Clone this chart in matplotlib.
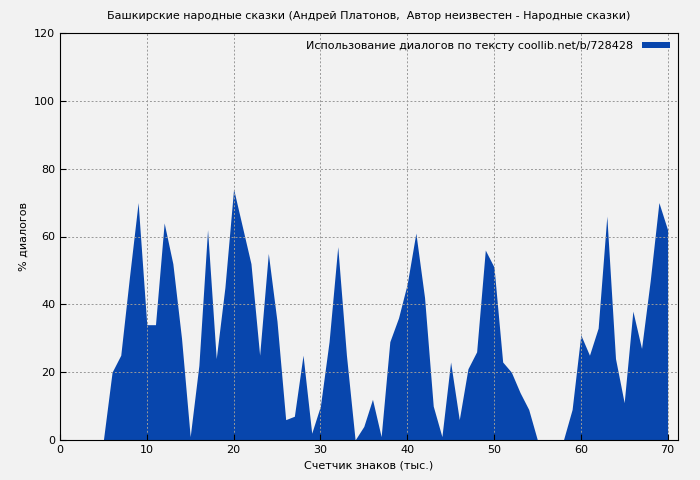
import matplotlib
matplotlib.use("Agg")
import matplotlib.pyplot as plt

x = list(range(0, 71))
y = [0,0,0,0,0,0,20,25,48,70,34,34,64,52,30,1,22,62,24,45,74,63,52,25,55,35,6,7,25,2,
     10,29,57,25,0,4,12,1,29,36,46,61,42,10,1,23,6,21,26,56,51,23,20,14,9,0,0,0,0,9,
     31,25,33,66,24,11,38,27,47,70,62]
title = "Башкирские народные сказки (Андрей Платонов,  Автор неизвестен - Народные сказки)"
legend_label = "Использование диалогов по тексту coollib.net/b/728428"
color = "#0846ad"

fig = plt.figure(figsize=(7, 4.8), dpi=100, facecolor="#f2f2f2")
ax = fig.add_axes([60/700, 40/480, 618/700, 407/480])
ax.set_facecolor("#f2f2f2")
ax.fill_between(x, y, 0, color=color, linewidth=0, label=legend_label)
ax.set_xlim(0, 71.2)
ax.set_ylim(0, 120)
ax.set_xticks(range(0, 71, 10))
ax.set_yticks(range(0, 121, 20))
ax.grid(True, color="#999999", linestyle=(0, (2, 2)), linewidth=0.7)
ax.tick_params(labelsize=8, direction="in", length=4)
ax.set_xlabel("Счетчик знаков (тыс.)", fontsize=8)
ax.set_ylabel("% диалогов", fontsize=8)
ax.set_title(title, fontsize=8, pad=10)
leg = ax.legend(loc="upper right", fontsize=8, frameon=False, handlelength=2.5,
                handleheight=0.5, borderaxespad=0.3, markerfirst=False)
fig.savefig("out.png", dpi=100, facecolor="#f2f2f2")
